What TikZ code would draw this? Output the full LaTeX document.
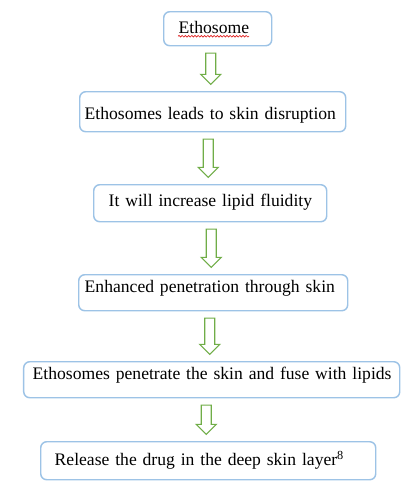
\documentclass[tikz,border=0pt]{standalone}
\usepackage{fontspec}
\setmainfont{Liberation Serif}
\usetikzlibrary{calc,decorations.pathmorphing}
\definecolor{etblue}{HTML}{9DC3E6}
\definecolor{etgreen}{HTML}{70AD47}
\definecolor{etred}{HTML}{E02020}
\tikzset{
  stepbox/.style={draw=etblue,fill=white,line width=1.1pt,rounded corners=4.5pt,
                  anchor=north west,inner sep=0pt,align=left,
                  font=\fontsize{13.2}{16}\selectfont},
  blockarr/.style={draw=etgreen,fill=white,line width=0.8pt,line join=miter,
    to path={let \p1=(\tikztostart), \p2=(\tikztotarget) in
      (\x2-5.25pt,\y1-5pt) -- (\x2+2.25pt,\y1-5pt) -- (\x2+2.25pt,\y2+12.5pt)
      -- (\x2+6pt,\y2+12.5pt) -- (\x2-1.5pt,\y2+5pt) -- (\x2-9pt,\y2+12.5pt)
      -- (\x2-5.25pt,\y2+12.5pt) -- cycle}},
  spell/.style={draw=etred,line width=0.5pt,decorate,
                decoration={snake,segment length=2.4pt,amplitude=0.6pt}},
}
\begin{document}
\begin{tikzpicture}[x=0.75pt,y=-0.75pt]
  \useasboundingbox (0,0) rectangle (409,487);
  % steps
  \node[stepbox,text width=81pt,text height=16.5pt,text depth=9pt] (s1) at (163,11)
    {\hspace*{11.25pt}Ethosome};
  \node[stepbox,text width=199.5pt,text height=21pt,text depth=9pt] (s2) at (79,91)
    {\hspace*{3.75pt}Ethosomes leads to skin disruption};
  \node[stepbox,text width=174.75pt,text height=16.5pt,text depth=11.25pt] (s3) at (93,184)
    {\hspace*{11.25pt}It will increase lipid fluidity};
  \node[stepbox,text width=201.75pt,text height=13.5pt,text depth=13.5pt] (s4) at (78,274)
    {\hspace*{4.5pt}Enhanced penetration through skin};
  \node[stepbox,text width=282pt,text height=13.5pt,text depth=13.5pt] (s5) at (23,361)
    {\hspace*{6.75pt}Ethosomes penetrate the skin and fuse with lipids};
  \node[stepbox,text width=251.25pt,text height=18pt,text depth=10.5pt] (s6) at (40,441)
    {\hspace*{10.5pt}Release the drug in the deep skin layer\textsuperscript{8}};
  % spelling mark
  \draw[spell] ($(s1.base west)+(15,2.5)$) -- ($(s1.base west)+(86,2.5)$);
  % arrows
  \draw[blockarr] (s1.south) to (s2.north);
  \draw[blockarr] (s2.south) to (s3.north);
  \draw[blockarr] (s3.south) to (s4.north);
  \draw[blockarr] (s4.south) to (s5.north);
  \draw[blockarr] (s5.south) to (s6.north);
\end{tikzpicture}
\end{document}
